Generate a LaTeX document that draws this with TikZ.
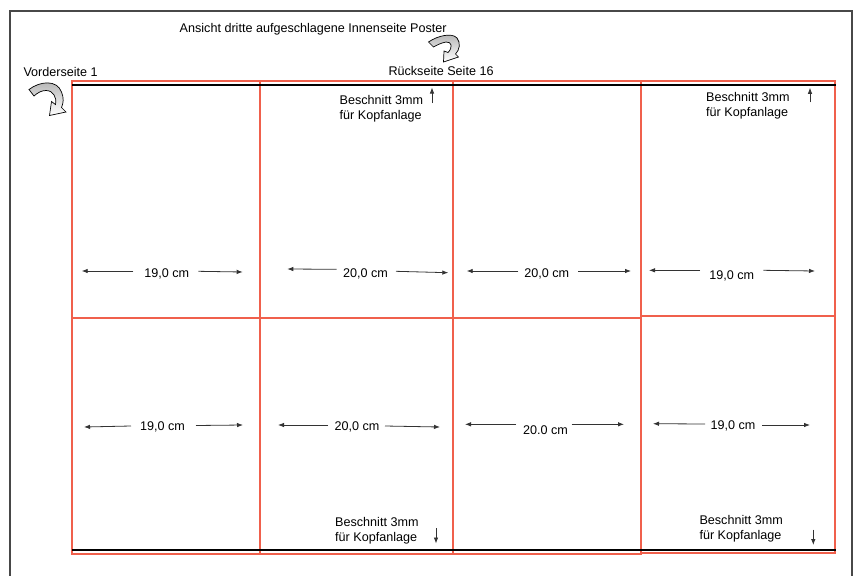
\documentclass[tikz,border=0pt]{standalone}
\usepackage{fontspec}
\setmainfont{Liberation Sans}
\usetikzlibrary{arrows.meta}
\definecolor{cutred}{RGB}{240,96,76}
\definecolor{framegray}{RGB}{72,72,72}
\begin{document}
\begin{tikzpicture}[x=1pt,y=-1pt,
  lbl/.style={font=\fontsize{12.6}{15}\selectfont, inner sep=0pt, anchor=base west},
  dim/.style={font=\fontsize{12.6}{15}\selectfont, inner sep=0pt, anchor=base},
  dimarrow/.style={draw=black!80, line width=0.8pt, -{Latex[length=6pt,width=4.5pt]}},
  redline/.style={draw=cutred, line width=1.2pt},
  blackline/.style={draw=black, line width=2pt},
  framestyle/.style={draw=framegray, line width=1.6pt},
  bendarrow/.style={draw=black, line width=0.7pt, top color=gray!60, bottom color=white}]
\useasboundingbox (0,0) rectangle (860,576);
\fill[white] (0,0) rectangle (860,576);

% outer frame (bottom edge lies outside the picture)
\draw[framestyle] (10,576) -- (10,11) -- (852,11) -- (852,576);

% red cut lines
\draw[redline] (72,81) rectangle (260,554);
\draw[redline] (260,81) rectangle (453,554);
\draw[redline] (453,81) rectangle (641,554);
\draw[redline] (641,81) rectangle (835,553);
\draw[redline] (72,318) -- (641,318);
\draw[redline] (641,316) -- (835,316);

% black trim lines
\draw[blackline] (72,85) -- (836,85);
\draw[blackline] (72,550) -- (836,550);

% headings
\node[lbl] (title) at (179.5,32.7) {Ansicht dritte aufgeschlagene Innenseite Poster};
\node[lbl] (front) at (23.3,76) {Vorderseite 1};
\node[lbl] (back) at (388.3,75) {Rückseite Seite 16};

% curved arrows
\draw[bendarrow] (29,89.5) .. controls (40,81) and (57,79.5) .. (61.5,92)
  .. controls (64,98) and (63.5,103) .. (61.5,107.5) -- (66,112) -- (49.5,115.5)
  -- (51.5,101.5) -- (55.5,104.5) .. controls (57,97) and (53,90.5) .. (46,90.5)
  .. controls (41,90.5) and (37.5,93) .. (34,96) -- cycle;
\draw[bendarrow] (428.5,42) .. controls (438,35.5) and (452,32.5) .. (457,38)
  .. controls (461,43) and (459.5,50) .. (455.5,54) -- (458.5,57) -- (443.5,62)
  -- (444,51) -- (448,52.5) .. controls (453,47.5) and (452,41.5) .. (446,42)
  .. controls (441,43) and (437,45) .. (433.5,47) -- cycle;

% Beschnitt notes
\node[lbl] (b2a) at (339.5,104) {Beschnitt 3mm};
\node[lbl] (b2b) at (339.5,119) {für Kopfanlage};
\coordinate (b2from) at (432,103);
\coordinate (b2to) at (432,87.5);
\draw[dimarrow] (b2from) -- (b2to);

\node[lbl] (b4a) at (706,101.7) {Beschnitt 3mm};
\node[lbl] (b4b) at (706,116.7) {für Kopfanlage};
\coordinate (b4from) at (810,102.3);
\coordinate (b4to) at (810,87.8);
\draw[dimarrow] (b4from) -- (b4to);

\node[lbl] (b6a) at (335,526.7) {Beschnitt 3mm};
\node[lbl] (b6b) at (335,541.7) {für Kopfanlage};
\coordinate (b6from) at (436,528);
\coordinate (b6to) at (436,543.5);
\draw[dimarrow] (b6from) -- (b6to);

\node[lbl] (b8a) at (699.3,524.3) {Beschnitt 3mm};
\node[lbl] (b8b) at (699.3,539) {für Kopfanlage};
\coordinate (b8from) at (813.3,529.5);
\coordinate (b8to) at (813.3,545);
\draw[dimarrow] (b8from) -- (b8to);

% dimensions, upper row
\node[dim] (u1) at (166.7,277.7) {19,0 cm};
\draw[dimarrow] (133.3,271) -- (81.7,271);
\draw[dimarrow] (198.3,271.3) -- (242.7,272);
\node[dim] (u2) at (365.5,277) {20,0 cm};
\draw[dimarrow] (336.7,269.3) -- (287.3,269);
\draw[dimarrow] (396,271.3) -- (448.3,272.7);
\node[dim] (u3) at (546.7,277) {20,0 cm};
\draw[dimarrow] (518.3,271) -- (466.7,271);
\draw[dimarrow] (578.3,271) -- (631,271);
\node[dim] (u4) at (731.7,279) {19,0 cm};
\draw[dimarrow] (700,270.3) -- (649,270.3);
\draw[dimarrow] (763.3,270.3) -- (815,271);

% dimensions, lower row
\node[dim] (l1) at (162.5,430.5) {19,0 cm};
\draw[dimarrow] (131,426) -- (84,427);
\draw[dimarrow] (196,425.5) -- (243,425);
\node[dim] (l2) at (357,430.5) {20,0 cm};
\draw[dimarrow] (328,425) -- (278,425);
\draw[dimarrow] (385,426) -- (440,427);
\node[dim] (l3) at (545.5,434) {20.0 cm};
\draw[dimarrow] (516,424.3) -- (465,424.3);
\draw[dimarrow] (571.7,424.3) -- (624,424.3);
\node[dim] (l4) at (733,429.5) {19,0 cm};
\draw[dimarrow] (705,424) -- (653,423.7);
\draw[dimarrow] (762,425) -- (810,425);
\end{tikzpicture}
\end{document}
